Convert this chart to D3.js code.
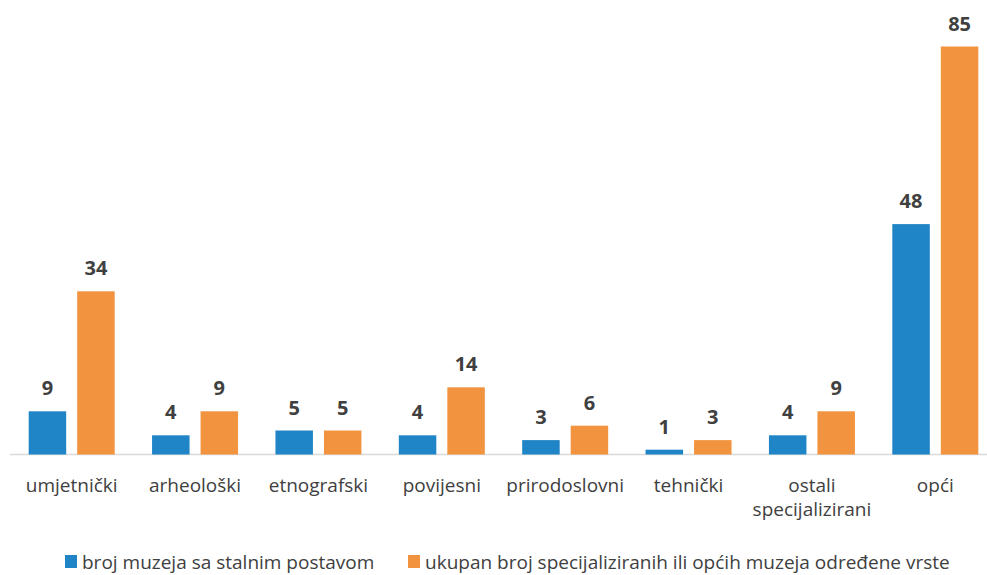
<!DOCTYPE html>
<html>
<head>
<meta charset="utf-8">
<script src="https://cdn.jsdelivr.net/npm/d3@7"></script>
<style>
  body { margin: 0; background: #fff; }
  svg text { font-family: "Open Sans", "Noto Sans", sans-serif; fill: #404040; }
</style>
</head>
<body>
<svg width="987" height="575"></svg>
<script>
// categories and the two series
var categories = ["umjetnički", "arheološki", "etnografski", "povijesni", "prirodoslovni", "tehnički", "ostali specijalizirani", "opći"];
var seriesNames = ["broj muzeja sa stalnim postavom", "ukupan broj specijaliziranih ili općih muzeja određene vrste"];
var stalni = [9, 4, 5, 4, 3, 1, 4, 48];
var ukupno = [34, 9, 5, 14, 6, 3, 9, 85];
var colors = ["#1f85c7", "#f29340"];

var svg = d3.select("svg"),
    width = +svg.attr("width"),
    height = +svg.attr("height");

var baseline = 454.5;

var x0 = d3.scaleBand()
    .domain(categories)
    .range([10, 997])
    .padding(0);

var x1 = d3.scaleBand()
    .domain([0, 1])
    .range([x0.bandwidth() / 2 - 43, x0.bandwidth() / 2 + 43])
    .paddingInner(0.227);

var y = d3.scaleLinear()
    .domain([0, 85])
    .range([baseline, 46.5]);

var rows = categories.map(function (c, i) {
    return { cat: c, values: [stalni[i], ukupno[i]] };
});

// axis line
svg.append("line")
    .attr("x1", 10).attr("x2", width)
    .attr("y1", baseline).attr("y2", baseline)
    .attr("stroke", "#d9d9d9")
    .attr("stroke-width", 1.5);

var group = svg.selectAll(".grp")
    .data(rows)
    .enter().append("g")
    .attr("class", "grp")
    .attr("transform", function (d) { return "translate(" + x0(d.cat) + ",0)"; });

group.selectAll("rect")
    .data(function (d) { return d.values; })
    .enter().append("rect")
    .attr("x", function (d, i) { return x1(i); })
    .attr("width", x1.bandwidth())
    .attr("y", function (d) { return y(d); })
    .attr("height", function (d) { return baseline - y(d); })
    .attr("fill", function (d, i) { return colors[i]; });

group.selectAll(".val")
    .data(function (d) { return d.values; })
    .enter().append("text")
    .attr("class", "val")
    .attr("x", function (d, i) { return x1(i) + x1.bandwidth() / 2; })
    .attr("y", function (d) { return y(d) - 16; })
    .attr("text-anchor", "middle")
    .style("font-size", "20px")
    .style("font-weight", "bold")
    .text(function (d) { return d; });

// category labels, "ostali specijalizirani" wraps onto two lines
var catText = svg.selectAll(".cat")
    .data(categories)
    .enter().append("text")
    .attr("class", "cat")
    .attr("text-anchor", "middle")
    .attr("x", function (d) { return x0(d) + x0.bandwidth() / 2; })
    .attr("y", 492)
    .style("font-size", "19px");

catText.each(function (d) {
    var t = d3.select(this);
    var parts = d === "ostali specijalizirani" ? ["ostali", "specijalizirani"] : [d];
    parts.forEach(function (p, k) {
        t.append("tspan")
            .attr("x", t.attr("x"))
            .attr("dy", k === 0 ? 0 : 24)
            .text(p);
    });
});

// legend
var legendX = [65, 408];
var legend = svg.selectAll(".leg")
    .data(seriesNames)
    .enter().append("g")
    .attr("class", "leg")
    .attr("transform", function (d, i) { return "translate(" + legendX[i] + ",555)"; });

legend.append("rect")
    .attr("width", 12).attr("height", 13)
    .attr("fill", function (d, i) { return colors[i]; });

legend.append("text")
    .attr("x", 17)
    .attr("y", 14)
    .style("font-size", "19px")
    .text(function (d) { return d; });
</script>
</body>
</html>
